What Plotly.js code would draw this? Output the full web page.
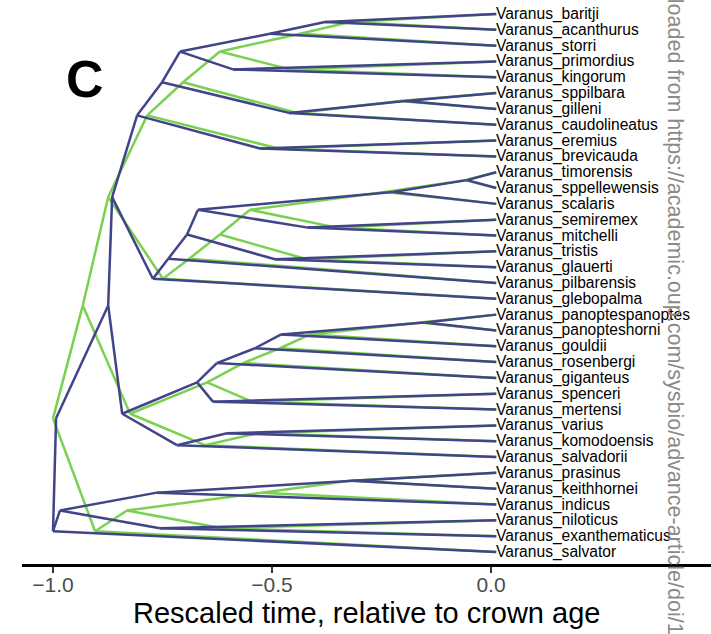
<!DOCTYPE html>
<html><head><meta charset="utf-8">
<script src="https://cdn.plot.ly/plotly-3.0.1.min.js"></script>
<style>html,body{margin:0;padding:0;background:#fff;overflow:hidden}</style>
</head><body><div id="chart" style="width:711px;height:634px"></div>
<script>
// Tip labels, top to bottom
const tipLabels = [
  "Varanus_baritji","Varanus_acanthurus","Varanus_storri","Varanus_primordius","Varanus_kingorum",
  "Varanus_sppilbara","Varanus_gilleni","Varanus_caudolineatus","Varanus_eremius","Varanus_brevicauda",
  "Varanus_timorensis","Varanus_sppellewensis","Varanus_scalaris","Varanus_semiremex","Varanus_mitchelli",
  "Varanus_tristis","Varanus_glauerti","Varanus_pilbarensis","Varanus_glebopalma","Varanus_panoptespanoptes",
  "Varanus_panopteshorni","Varanus_gouldii","Varanus_rosenbergi","Varanus_giganteus","Varanus_spenceri",
  "Varanus_mertensi","Varanus_varius","Varanus_komodoensis","Varanus_salvadorii","Varanus_prasinus",
  "Varanus_keithhornei","Varanus_indicus","Varanus_niloticus","Varanus_exanthematicus","Varanus_salvator"
];
// Internal nodes: children ("t#" = tip number, "n#" = node index)
const nodeChildren = [
  ["t1","t2"],  ["n0","t3"],  ["t4","t5"],  ["n1","n2"],  ["t6","t7"],
  ["n4","t8"],  ["n3","n5"],  ["t9","t10"], ["n6","n7"],  ["t11","t12"],
  ["n9","t13"], ["t14","t15"],["n10","n11"],["t16","t17"],["n12","n13"],
  ["n14","t18"],["n15","t19"],["n8","n16"], ["t20","t21"],["n18","t22"],
  ["n19","t23"],["n20","t24"],["t25","t26"],["n21","n22"],["t27","t28"],
  ["n24","t29"],["n23","n25"],["n17","n26"],["t30","t31"],["n28","t32"],
  ["t33","t34"],["n29","n30"],["n31","t35"],["n27","n32"]
];
// Node times (rescaled, relative to crown age) for the two trees
const navyAge = [
  -0.379,-0.505,-0.589,-0.710,-0.196,
  -0.461,-0.751,-0.527,-0.808,-0.055,
  -0.224,-0.418,-0.669,-0.493,-0.694,
  -0.737,-0.772,-0.865,-0.151,-0.479,
  -0.539,-0.626,-0.635,-0.671,-0.603,
  -0.717,-0.842,-0.874,-0.315,-0.763,
  -0.756,-0.984,-1.000,-0.993
];
const greenAge = [
  -0.322,-0.436,-0.459,-0.619,-0.208,
  -0.443,-0.703,-0.486,-0.785,-0.059,
  -0.242,-0.352,-0.550,-0.420,-0.619,
  -0.689,-0.749,-0.874,-0.162,-0.413,
  -0.482,-0.566,-0.546,-0.648,-0.534,
  -0.653,-0.824,-0.932,-0.322,-0.523,
  -0.614,-0.831,-0.904,-1.000
];
const tipAge = 0.012;
const tickVals = [-1, -0.5, 0];
const tickText = ["\u22121.0", "\u22120.5", "0.0"];

// layout helpers
const nodeY = [];
function yOf(ref){
  if (ref[0] === "t") return parseInt(ref.slice(1));
  const i = parseInt(ref.slice(1));
  if (nodeY[i] === undefined) nodeY[i] = (yOf(nodeChildren[i][0]) + yOf(nodeChildren[i][1]))/2;
  return nodeY[i];
}
nodeChildren.forEach((c,i)=>yOf("n"+i));

function segs(ages){
  const xs=[], ys=[];
  const xOf = r => r[0]==="t" ? tipAge : ages[parseInt(r.slice(1))];
  nodeChildren.forEach((ch,i)=>{
    ch.forEach(c=>{
      xs.push(ages[i], xOf(c), null);
      ys.push(nodeY[i], yOf(c), null);
    });
  });
  return {xs, ys};
}
const g = segs(greenAge), n = segs(navyAge);
const traces = [
  {x:g.xs, y:g.ys, mode:"lines", line:{color:"#7AD151", width:2.5}, hoverinfo:"skip", showlegend:false},
  {x:n.xs, y:n.ys, mode:"lines", line:{color:"#414487", width:2.5}, hoverinfo:"skip", showlegend:false}
];

const FONT = "Liberation Sans, Arial, Helvetica, sans-serif";
const annotations = tipLabels.map((t,i)=>({
  x: tipAge, y: i+1, xref:"x", yref:"y", text:t, showarrow:false,
  xanchor:"left", yanchor:"middle", xshift:-1, borderpad:0,
  font:{family:FONT, size:15.6, color:"#000"}
}));
annotations.push({
  x:0.5, y:-0.087, xref:"paper", yref:"paper", text:"Rescaled time, relative to crown age",
  showarrow:false, xanchor:"center", yanchor:"middle",
  font:{family:FONT, size:29, color:"#000"}
});
annotations.push({
  x:0.0914, y:0.86, xref:"paper", yref:"paper", text:"<b>C</b>",
  showarrow:false, xanchor:"center", yanchor:"middle",
  font:{family:FONT, size:52, color:"#000"}
});
annotations.push({
  x:0.947, y:1.003, xref:"paper", yref:"paper",
  text:"loaded from https://academic.oup.com/sysbio/advance-article/doi/1",
  showarrow:false, textangle:90, xanchor:"center", yanchor:"top", borderpad:0,
  font:{family:FONT, size:21.5, color:"#8a8a8a"}
});

const layout = {
  width:711, height:634,
  margin:{l:22, r:0, t:0, b:70},
  paper_bgcolor:"#fff", plot_bgcolor:"#fff",
  xaxis:{range:[-1.0708, 0.5023], showgrid:false, zeroline:false, showline:true,
    linecolor:"#000", linewidth:2.5, ticks:"outside", ticklen:6, tickwidth:2, tickcolor:"#333",
    ticklabelstandoff:-6,
    tickvals:tickVals, ticktext:tickText, tickfont:{family:FONT, size:21, color:"#4d4d4d"}},
  yaxis:{range:[35.76, 0.115], visible:false, showgrid:false, zeroline:false},
  annotations: annotations
};
Plotly.newPlot("chart", traces, layout, {displayModeBar:false, staticPlot:true});
</script></body></html>
